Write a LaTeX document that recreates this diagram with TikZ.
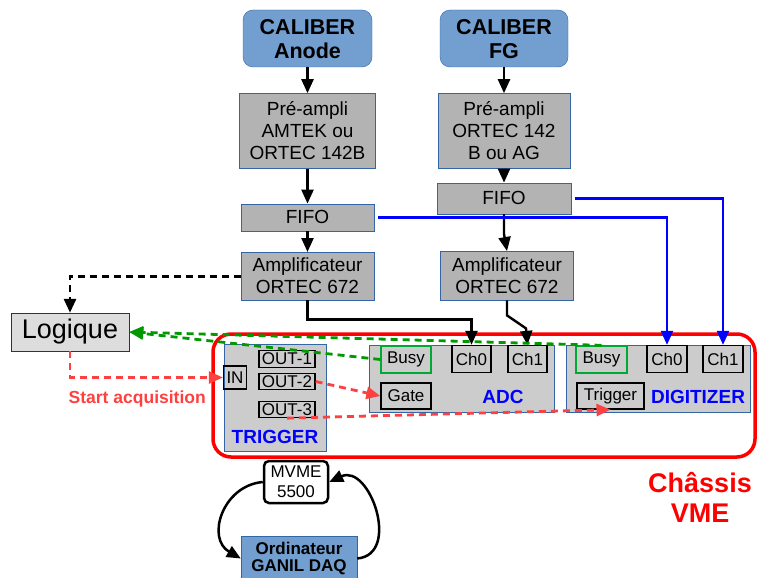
\documentclass[tikz,border=0pt]{standalone}
\usepackage{fontspec}
\setmainfont{Liberation Sans}
\usepackage{xcolor}
\usepackage{tikz}
\usetikzlibrary{arrows.meta, positioning, calc}

\definecolor{skyblue}{HTML}{729FCF}
\definecolor{edgeblue}{HTML}{3465A4}
\definecolor{boxgray}{HTML}{B3B3B3}
\definecolor{panelgray}{HTML}{CCCCCC}
\definecolor{logicgray}{HTML}{DDDDDD}
\definecolor{busygreen}{HTML}{00A933}
\definecolor{linkgreen}{HTML}{009900}
\definecolor{linkred}{HTML}{FF4040}

\begin{document}
\begin{tikzpicture}[x=1pt, y=-1pt,
    source/.style={draw=edgeblue, fill=skyblue, rounded corners=10pt, minimum width=129pt, minimum height=57pt, align=center, inner sep=0pt, font=\fontsize{21.5}{24}\selectfont\bfseries},
    block/.style={draw=edgeblue, fill=boxgray, minimum width=133pt, align=center, inner sep=0pt, font=\fontsize{19}{22}\selectfont},
    panel/.style={draw=edgeblue, fill=panelgray, inner sep=0pt},
    port/.style={draw=black, line width=1.3pt, inner sep=0pt, minimum height=27pt, font=\fontsize{17}{20}\selectfont},
    busy/.style={port, draw=busygreen, line width=1.4pt, minimum width=50pt},
    tag/.style={text=blue, font=\fontsize{19}{22}\selectfont\bfseries},
    arr/.style={-{Triangle[length=14pt, width=12pt]}, line width=2.4pt},
    signal/.style={-{Triangle[length=14pt, width=12pt]}, line width=2.8pt, dash pattern=on 7pt off 5pt},
]
\useasboundingbox (0,0) rectangle (758,578);

\draw[red, line width=3.5pt, rounded corners=18pt] (213,334) rectangle (755,457);

\node[source] (anode) at (307.5,38.5) {\strut CALIBER\\Anode};
\node[block, minimum width=136pt, minimum height=75pt, below=26pt of anode] (preA) {Pré-ampli\\AMTEK ou\\ORTEC 142B};
\node[block, minimum height=27pt, below=35pt of preA] (fifoA) {FIFO};
\node[block, minimum height=48pt, below=21pt of fifoA] (ampA) {Amplificateur\\ORTEC 672};

\node[source, minimum width=128pt] (fg) at (504,38.5) {\strut CALIBER\\FG};
\node[block, minimum width=132pt, minimum height=75pt, below=26pt of fg] (preF) {Pré-ampli\\ORTEC 142\\B ou AG};
\node[block, minimum width=134pt, minimum height=31pt, below=14pt of preF] (fifoF) {FIFO};
\node[block, minimum height=49pt, below=37pt of fifoF, xshift=3pt] (ampF) {Amplificateur\\ORTEC 672};

\node[draw=black!80, fill=logicgray, minimum width=118pt, minimum height=38pt, inner sep=0pt, font=\fontsize{27}{30}\selectfont] (logique) at (70,332) {Logique};

\node[panel, minimum width=102pt, minimum height=107pt] (trig) at (275,397.5) {};
\node[port, minimum width=23pt, minimum height=23pt] (in) at (235,377.5) {IN};
\node[port, minimum width=56pt, minimum height=17pt] (out1) at (287,359) {OUT-1};
\node[port, minimum width=56pt, minimum height=16pt] (out2) at (287,381.5) {OUT-2};
\node[port, minimum width=56pt, minimum height=16pt] (out3) at (287,409.5) {OUT-3};
\node[tag] (triglbl) at (275,437) {TRIGGER};

\node[panel, minimum width=185pt, minimum height=67pt] (adc) at (461.5,378.5) {};
\node[busy] (adcbusy) at (406,359.5) {Busy};
\node[port, minimum width=39pt] (adcch0) at (471.5,359) {Ch0};
\node[port, minimum width=39pt] (adcch1) at (527.5,359) {Ch1};
\node[port, minimum width=50pt, minimum height=26pt] (gate) at (406,396) {Gate};
\node[tag] (adclbl) at (503,397) {ADC};

\node[panel, minimum width=184pt, minimum height=67pt] (dig) at (658,378.5) {};
\node[busy, minimum width=51pt] (digbusy) at (601.5,359.5) {Busy};
\node[port, minimum width=40pt] (digch0) at (667,359) {Ch0};
\node[port, minimum width=40pt] (digch1) at (723,359) {Ch1};
\node[port, minimum width=67pt, minimum height=26pt] (dtrig) at (610.5,396) {Trigger};
\node[tag] (diglbl) at (698,397) {DIGITIZER};

\node[text=red, align=center, font=\fontsize{27}{30}\selectfont\bfseries] (chassis) at (700,497) {Châssis\\VME};

\node[draw=black, line width=2.5pt, fill=white, rounded corners=5pt, minimum width=64pt, minimum height=42pt, align=center, inner sep=0pt, font=\fontsize{17}{20}\selectfont] (mvme) at (296,482) {MVME\\5500};
\node[draw=edgeblue, fill=skyblue, minimum width=116pt, minimum height=45pt, align=center, inner sep=0pt, font=\fontsize{17}{17.5}\selectfont\bfseries] (ordi) at (299,558.5) {Ordinateur\\GANIL DAQ};

\draw[arr] (anode) -- (preA);
\draw[arr] (preA) -- (fifoA);
\draw[arr] (fifoA) -- (ampA);
\draw[arr] (fg) -- (preF);
\draw[arr] (preF) -- (fifoF);
\draw[arr] (fifoF.south) -- ++(0,20) -- (ampF.north);
\draw[arr] (ampA.south) -- ++(0,19) -| (adcch0.north);
\draw[arr] (ampF.south) -- ++(0,15) -- ++(19,13) -- (adcch1.north);
\draw[arr, blue, shorten <=4pt] (fifoA.east) -| (digch0.north);
\draw[arr, blue, shorten <=4pt] (fifoF.east) -| (digch1.north);

\draw[signal, black] (ampA.west) -| (logique.north);
\draw[signal, linkred] (logique.south) |- node[pos=0.72, below=9pt, font=\fontsize{17.5}{20}\selectfont\bfseries] {Start acquisition} (in.west);
\draw[signal, linkred] (out2.east) -- (gate.west);
\draw[signal, linkred] (out3.south) -- (dtrig.south);
\draw[signal, linkgreen] (adcbusy.west) -- (logique.east);
\draw[signal, linkgreen] (digbusy.north) -- (logique.east);

\draw[arr, line width=2.5pt] (mvme.west) to[out=185, in=150, looseness=1.3] (ordi.west);
\draw[arr, line width=2.5pt] (ordi.east) to[out=5, in=25, looseness=1.4] (mvme.east);
\end{tikzpicture}
\end{document}
